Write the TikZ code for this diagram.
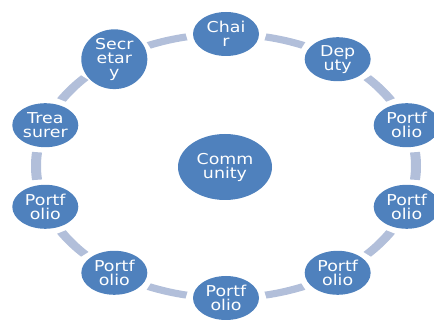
\documentclass[tikz,border=0pt]{standalone}
\usepackage{fontspec}
\usetikzlibrary{calc,shapes.geometric}
\newfontfamily\cyclefont[FakeStretch=1.16]{DejaVu Sans}
\definecolor{roleblue}{RGB}{79,129,189}
\definecolor{ringgray}{RGB}{178,191,218}
\tikzset{%
	role/.style = {ellipse, fill=roleblue, text=white, minimum width=66pt, minimum height=44pt, inner sep=0pt, align=center, font=\cyclefont\fontsize{15}{14}\selectfont}, % Member
	hub/.style  = {role, minimum width=94pt, minimum height=66pt}, % Centre
	ring/.style = {fill=ringgray}, % Ring piece
}

\begin{document}
\begin{tikzpicture}[x=1pt,y=1pt]
	\useasboundingbox (0,0) rectangle (434,321);
	\coordinate (mid) at (226,155);

	% pieces of the ring between the members
	\foreach \a in {30,66,...,354}
		\fill[ring] ($(mid)+(\a:195 and 135.5)$) arc[start angle=\a, end angle=\a+12, x radius=195pt, y radius=135.5pt]
			-- ($(mid)+(\a+12:185 and 128.5)$) arc[start angle=\a+12, end angle=\a, x radius=185pt, y radius=128.5pt] -- cycle;

	\node [hub] (comm) at (225,154) {Comm\\unity};
	\node [role] (chair) at ($(mid)+(90:190 and 132)$) {Chai\\r};
	\node [role] (dep) at ($(mid)+(54:190 and 132)$) {Dep\\uty};
	\node [role] (pfa) at ($(mid)+(18:190 and 132)$) {Portf\\olio};
	\node [role] (pfb) at ($(mid)+(-18:190 and 132)$) {Portf\\olio};
	\node [role] (pfc) at ($(mid)+(-54:190 and 132)$) {Portf\\olio};
	\node [role] (pfd) at ($(mid)+(-90:190 and 132)$) {Portf\\olio};
	\node [role] (pfe) at ($(mid)+(-126:190 and 132)$) {Portf\\olio};
	\node [role] (pff) at ($(mid)+(-162:190 and 132)$) {Portf\\olio};
	\node [role] (treas) at ($(mid)+(162:190 and 132)$) {Trea\\surer};
	\node [role] (sec) at ($(mid)+(126:190 and 132)$) {Secr\\etar\\y};
\end{tikzpicture}
\end{document}
